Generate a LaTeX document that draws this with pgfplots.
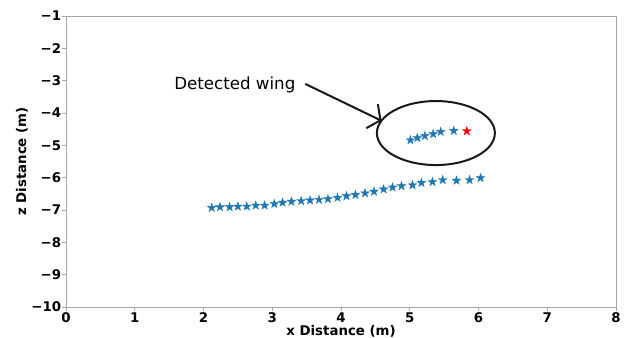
\documentclass[border=0pt]{standalone}
\usepackage{pgfplots}
\pgfplotsset{compat=1.18}
\usepackage{fontspec}
\setmainfont{DejaVu Sans}
\usetikzlibrary{arrows.meta}
\definecolor{tabblue}{HTML}{1F77B4}
\pgfdeclareplotmark{fstar}{%
  \pgfpathmoveto{\pgfpointpolar{90}{\pgfplotmarksize}}%
  \pgfpathlineto{\pgfpointpolar{126}{0.382\pgfplotmarksize}}%
  \pgfpathlineto{\pgfpointpolar{162}{\pgfplotmarksize}}%
  \pgfpathlineto{\pgfpointpolar{198}{0.382\pgfplotmarksize}}%
  \pgfpathlineto{\pgfpointpolar{234}{\pgfplotmarksize}}%
  \pgfpathlineto{\pgfpointpolar{270}{0.382\pgfplotmarksize}}%
  \pgfpathlineto{\pgfpointpolar{306}{\pgfplotmarksize}}%
  \pgfpathlineto{\pgfpointpolar{342}{0.382\pgfplotmarksize}}%
  \pgfpathlineto{\pgfpointpolar{18}{\pgfplotmarksize}}%
  \pgfpathlineto{\pgfpointpolar{54}{0.382\pgfplotmarksize}}%
  \pgfpathclose
  \pgfusepathqfillstroke
}
\begin{document}
\begin{tikzpicture}
\begin{axis}[
  scale only axis,
  width=412.5pt, height=218.25pt,
  xmin=0, xmax=8, ymin=-10, ymax=-1,
  xtick={0,1,2,3,4,5,6,7,8},
  xticklabels={0,1,2,3,4,5,6,7,8},
  ytick={-10,-9,-8,-7,-6,-5,-4,-3,-2,-1},
  yticklabels={−10,−9,−8,−7,−6,−5,−4,−3,−2,−1},
  tick align=outside,
  major tick length=3pt,
  tick style={gray!70, line width=0.6pt},
  axis line style={gray!70, line width=0.6pt},
  xtick pos=bottom, ytick pos=left,
  ticklabel style={font=\fontsize{10}{12}\selectfont\bfseries},
  xticklabel style={inner sep=1pt},
  yticklabel style={inner sep=0.5pt},
  xlabel={x Distance (m)},
  ylabel={z Distance (m)},
  label style={font=\fontsize{10}{12}\selectfont\bfseries},
  xlabel style={at={(axis description cs:0.5,-0.085)}, anchor=center},
  ylabel style={at={(axis description cs:-0.08,0.5)}, anchor=center, rotate=0},
  clip=false,
]
\addplot[only marks, mark=fstar, mark size=3.4pt, color=tabblue, mark options={line width=0.3pt}] coordinates {
 (2.12,-6.93) (2.24,-6.91) (2.38,-6.91) (2.50,-6.89) (2.63,-6.89)
 (2.76,-6.86) (2.89,-6.86) (3.03,-6.81) (3.15,-6.77) (3.28,-6.74)
 (3.42,-6.72) (3.55,-6.70) (3.68,-6.68) (3.81,-6.66) (3.95,-6.62)
 (4.08,-6.57) (4.21,-6.53) (4.35,-6.48) (4.48,-6.43) (4.62,-6.36)
 (4.75,-6.30) (4.88,-6.26) (5.04,-6.23) (5.17,-6.16) (5.33,-6.13)
 (5.48,-6.07) (5.68,-6.09) (5.87,-6.07) (6.03,-6.01)
};
\addplot[only marks, mark=fstar, mark size=3.4pt, color=tabblue, mark options={line width=0.3pt}] coordinates {
 (5.01,-4.84) (5.11,-4.77) (5.22,-4.71) (5.34,-4.65) (5.45,-4.58) (5.64,-4.55)
};
\addplot[only marks, mark=fstar, mark size=3.4pt, color=red, mark options={line width=0.3pt}] coordinates {
 (5.83,-4.56)
};
\draw[line width=1.5pt, black!90] (axis cs:5.38,-4.62) ellipse [x radius=44.25pt, y radius=24pt];
\draw[line width=1.5pt, black!90, -{Straight Barb[length=7pt,width=20pt]}] (axis cs:3.48,-3.10) -- (axis cs:4.59,-4.24);
\node[anchor=base west, inner sep=0pt, font=\fontsize{12.5}{15}\selectfont] at (axis cs:1.571,-3.258) {Detected wing};
\coordinate (bl) at (rel axis cs:0,0);
\coordinate (tr) at (rel axis cs:1,1);
\end{axis}
\pgfresetboundingbox
\useasboundingbox ([xshift=-49.5pt,yshift=-23.25pt]bl) rectangle ([xshift=6pt,yshift=12pt]tr);
\end{tikzpicture}
\end{document}
